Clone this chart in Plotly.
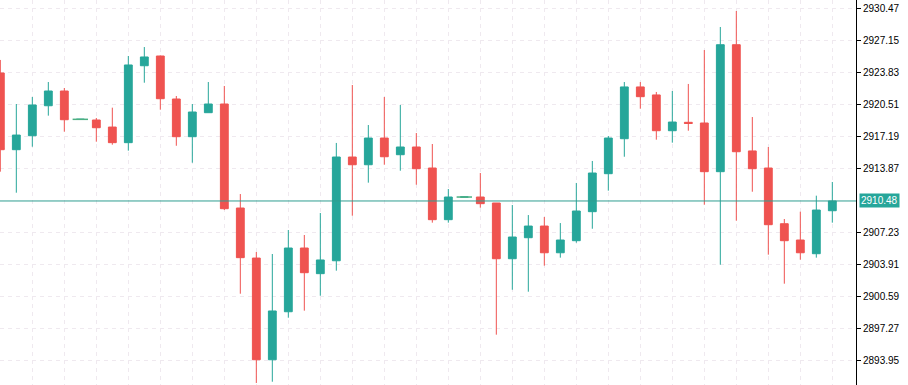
import plotly.graph_objects as go

idx = list(range(53))
opens = [2923.76, 2915.80, 2917.25, 2920.36, 2921.89, 2918.95, 2918.88, 2918.15, 2916.53, 2924.51,
         2925.52, 2921.06, 2917.15, 2919.64, 2920.54, 2909.75, 2904.56, 2894.01, 2898.99, 2905.60,
         2902.94, 2904.28, 2915.04, 2914.24, 2917.01, 2915.28, 2916.08, 2913.90, 2908.54, 2910.89,
         2910.89, 2910.27, 2904.49, 2906.67, 2907.88, 2905.11, 2906.36, 2909.37, 2913.31, 2916.94,
         2922.31, 2921.48, 2917.77, 2918.64, 2918.57, 2913.52, 2926.69, 2915.67, 2913.90, 2908.12,
         2906.43, 2905.01, 2909.47]
highs = [2925.11, 2920.54, 2921.27, 2922.82, 2922.20, 2918.97, 2919.09, 2920.16, 2925.52, 2926.45,
         2925.57, 2921.37, 2920.54, 2922.82, 2922.41, 2911.20, 2905.19, 2904.98, 2907.47, 2906.95,
         2909.23, 2916.50, 2922.51, 2918.36, 2921.27, 2920.44, 2917.53, 2916.39, 2911.72, 2910.91,
         2913.38, 2910.27, 2910.06, 2909.02, 2908.82, 2908.19, 2912.35, 2914.63, 2917.22, 2922.82,
         2922.82, 2921.79, 2921.89, 2922.62, 2926.14, 2928.53, 2930.19, 2919.19, 2916.08, 2908.61,
         2909.37, 2911.03, 2912.45]
lows = [2913.52, 2911.34, 2916.11, 2919.33, 2917.67, 2918.93, 2916.63, 2916.32, 2915.70, 2922.75,
        2919.95, 2916.21, 2914.45, 2919.64, 2909.54, 2900.86, 2891.60, 2891.73, 2898.37, 2899.10,
        2900.65, 2903.25, 2908.95, 2912.38, 2914.24, 2913.62, 2912.17, 2908.23, 2908.23, 2910.87,
        2909.78, 2896.61, 2901.27, 2901.07, 2903.77, 2904.60, 2906.15, 2907.60, 2911.55, 2915.07,
        2920.05, 2916.84, 2916.53, 2917.77, 2910.09, 2903.87, 2908.43, 2911.44, 2904.91, 2901.90,
        2904.39, 2904.60, 2908.23]
closes = [2915.80, 2917.32, 2920.44, 2921.89, 2918.91, 2918.95, 2918.08, 2916.53, 2924.59, 2925.42,
          2921.09, 2917.15, 2919.71, 2920.54, 2909.68, 2904.60, 2894.01, 2899.07, 2905.60, 2903.04,
          2904.36, 2915.04, 2914.24, 2917.01, 2915.07, 2916.08, 2913.83, 2908.54, 2910.89, 2910.89,
          2910.20, 2904.49, 2906.74, 2907.88, 2905.11, 2906.43, 2909.44, 2913.38, 2917.01, 2922.31,
          2921.30, 2917.77, 2918.67, 2918.52, 2913.52, 2926.69, 2915.59, 2913.83, 2908.02, 2906.36,
          2905.11, 2909.54, 2910.48]

tick_vals = [2930.47, 2927.15, 2923.83, 2920.51, 2917.19, 2913.87, 2907.23, 2903.91, 2900.59, 2897.27, 2893.95]
tick_text = ["2930.47", "2927.15", "2923.83", "2920.51", "2917.19", "2913.87", "2907.23", "2903.91", "2900.59", "2897.27", "2893.95"]
last_price = 2910.48
last_label = "2910.48"

UP = "#26a69a"
DOWN = "#ef5350"
DOJI = "#4caf82"
GRID = "#efe9ef"

doji_x = [i for i in idx if opens[i] == closes[i]]
doji_y = [closes[i] for i in doji_x]

fig = go.Figure()
fig.add_trace(go.Candlestick(
    x=idx, open=opens, high=highs, low=lows, close=closes,
    increasing=dict(line=dict(color=UP, width=1), fillcolor=UP),
    decreasing=dict(line=dict(color=DOWN, width=1), fillcolor=DOWN),
    whiskerwidth=0, showlegend=False, hoverinfo="skip",
))
fig.add_trace(go.Scatter(
    x=doji_x, y=doji_y, mode="markers",
    marker=dict(symbol="line-ew", size=11, line=dict(color=DOJI, width=1.5)),
    showlegend=False, hoverinfo="skip",
))

fig.add_hline(y=last_price, line=dict(color="#2f9e90", width=1))

fig.add_annotation(
    x=1, xref="paper", y=last_price, yref="y", xanchor="left", yanchor="middle",
    text=last_label, showarrow=False, xshift=3,
    bgcolor=UP, font=dict(color="white", size=10, family="Liberation Sans, Arial"),
    borderpad=1,
)

fig.update_layout(
    width=908, height=385,
    margin=dict(l=0, r=52, t=0, b=0),
    paper_bgcolor="white", plot_bgcolor="white",
    showlegend=False,
    xaxis=dict(
        range=[-0.02, 53.48], rangeslider=dict(visible=False),
        showticklabels=False, ticks="", showline=False, zeroline=False,
        tickmode="linear", tick0=0, dtick=2,
        showgrid=True, gridcolor=GRID, griddash="4px,4px", gridwidth=1,
    ),
    yaxis=dict(
        side="right", range=[2891.39, 2931.33],
        tickmode="array", tickvals=tick_vals, ticktext=tick_text,
        ticks="outside", ticklen=4, tickcolor="black", tickwidth=1,
        showline=True, linecolor="black", linewidth=1, mirror=False,
        zeroline=False,
        showgrid=True, gridcolor=GRID, griddash="4px,4px", gridwidth=1,
        tickfont=dict(family="Liberation Sans, Arial", size=10, color="black"),
    ),
)

fig.write_html(
    "out.html",
    config={"displayModeBar": False},
    post_script="document.body.style.margin='0';document.body.style.overflow='hidden';",
)
